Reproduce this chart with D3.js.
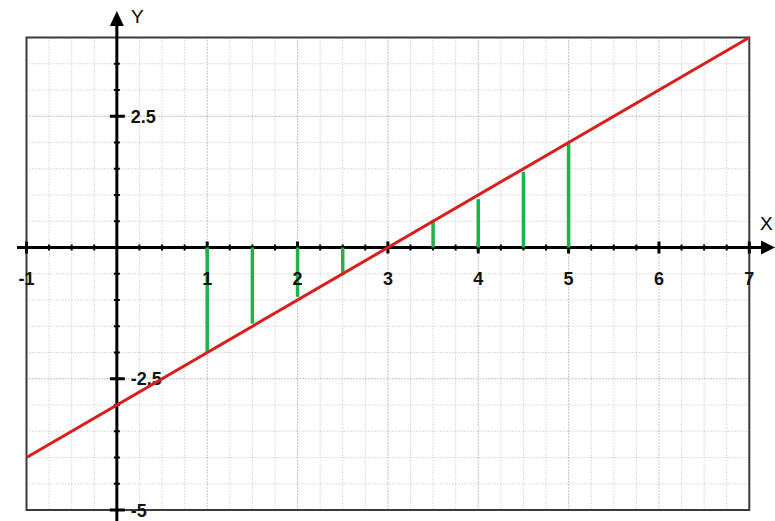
<!DOCTYPE html>
<html>
<head>
<meta charset="utf-8">
<script src="https://cdn.jsdelivr.net/npm/d3@7"></script>
<style>
  body { margin: 0; background: #fff; }
  svg { display: block; }
  text { font-family: "Liberation Sans", Arial, sans-serif; }
</style>
</head>
<body>
<script>
// data
var xLabels = [-1, 1, 2, 3, 4, 5, 6, 7];
var yLabels = [2.5, -2.5, -5];
var lineXs = [-1, 7];
var lineYs = [-4, 4];
var stemXs = [1, 1.5, 2, 2.5, 3.5, 4, 4.5, 5];
var stemYs = [-2, -1.45, -0.94, -0.53, 0.53, 0.92, 1.44, 2.02];

var w = 775, h = 521;
var svg = d3.select("body").append("svg").attr("width", w).attr("height", h);

var x = d3.scaleLinear().domain([-1, 7]).range([26.5, 749.3]);
var y = d3.scaleLinear().domain([-5, 4]).range([510, 37.5]);

// grid - minor then major
var minorX = d3.range(-1, 7.001, 0.25).filter(function(d){ return d % 1 !== 0; });
var majorX = d3.range(-1, 7.001, 1);
var minorY = d3.range(-5, 4.001, 0.5).filter(function(d){ return d % 2.5 !== 0; });
var majorY = [-2.5, 2.5];

var grid = svg.append("g");
grid.selectAll(".mx").data(minorX).enter().append("line")
  .attr("x1", x).attr("x2", x).attr("y1", y(4)).attr("y2", y(-5))
  .attr("stroke", "#bdbdbd").attr("stroke-width", 1).attr("stroke-dasharray", "1,2");
grid.selectAll(".my").data(minorY).enter().append("line")
  .attr("y1", y).attr("y2", y).attr("x1", x(-1)).attr("x2", x(7))
  .attr("stroke", "#bdbdbd").attr("stroke-width", 1).attr("stroke-dasharray", "1,2");
grid.selectAll(".Mx").data(majorX).enter().append("line")
  .attr("x1", x).attr("x2", x).attr("y1", y(4)).attr("y2", y(-5))
  .attr("stroke", "#888").attr("stroke-width", 1).attr("stroke-dasharray", "1,2");
grid.selectAll(".My").data(majorY).enter().append("line")
  .attr("y1", y).attr("y2", y).attr("x1", x(-1)).attr("x2", x(7))
  .attr("stroke", "#888").attr("stroke-width", 1).attr("stroke-dasharray", "1,2");

// frame
svg.append("rect")
  .attr("x", x(-1)).attr("y", y(4))
  .attr("width", x(7) - x(-1)).attr("height", y(-5) - y(4))
  .attr("fill", "none").attr("stroke", "#3a3a3a").attr("stroke-width", 2);

// axes
var x0 = x(0), y0 = y(0);
svg.append("line").attr("x1", 17).attr("x2", 764).attr("y1", y0).attr("y2", y0)
  .attr("stroke", "#000").attr("stroke-width", 3);
svg.append("path")
  .attr("d", "M775," + y0 + "L761," + (y0 - 7) + "L761," + (y0 + 7) + "Z")
  .attr("fill", "#000");
svg.append("line").attr("x1", x0).attr("x2", x0).attr("y1", 24).attr("y2", h)
  .attr("stroke", "#000").attr("stroke-width", 3);
svg.append("path")
  .attr("d", "M" + x0 + ",11L" + (x0 - 7) + ",26L" + (x0 + 7) + ",26Z")
  .attr("fill", "#000");

// ticks on x axis
svg.selectAll(".xt").data(minorX).enter().append("line")
  .attr("x1", x).attr("x2", x).attr("y1", y0 - 3).attr("y2", y0 + 3)
  .attr("stroke", "#000").attr("stroke-width", 2);
svg.selectAll(".xT").data(majorX.filter(function(d){ return d !== 0; })).enter().append("line")
  .attr("x1", x).attr("x2", x).attr("y1", y0 - 6).attr("y2", y0 + 6)
  .attr("stroke", "#000").attr("stroke-width", 3);

// ticks on y axis
svg.selectAll(".yt").data(minorY.filter(function(d){ return d < 4; })).enter().append("line")
  .attr("y1", y).attr("y2", y).attr("x1", x0 - 3).attr("x2", x0 + 3)
  .attr("stroke", "#000").attr("stroke-width", 2);
svg.selectAll(".yT").data(yLabels).enter().append("line")
  .attr("y1", y).attr("y2", y).attr("x1", x0 - 7).attr("x2", x0 + 8)
  .attr("stroke", "#000").attr("stroke-width", 3);

// green stems
svg.selectAll(".stem").data(stemXs).enter().append("line")
  .attr("x1", x).attr("x2", x)
  .attr("y1", y0)
  .attr("y2", function(d, i){ return y(stemYs[i]); })
  .attr("stroke", "#1fb24a").attr("stroke-width", 3.5);

// tick labels (on top of stems)
svg.selectAll(".xl").data(xLabels).enter().append("text")
  .attr("x", x).attr("y", y0 + 37)
  .attr("text-anchor", "middle")
  .attr("font-size", 18).attr("font-weight", "bold").attr("fill", "#111")
  .text(function(d){ return d; });
svg.selectAll(".yl").data(yLabels).enter().append("text")
  .attr("x", x0 + 14).attr("y", function(d){ return y(d) + 6.5; })
  .attr("font-size", 18).attr("font-weight", "bold").attr("fill", "#111")
  .text(function(d){ return d; });

// axis names
svg.append("text").attr("x", 131).attr("y", 23).attr("font-size", 19).text("Y");
svg.append("text").attr("x", 760).attr("y", 230).attr("font-size", 19).text("X");

// red line
var pts = lineXs.map(function(d, i){ return [d, lineYs[i]]; });
svg.append("path").datum(pts)
  .attr("d", d3.line().x(function(d){ return x(d[0]); }).y(function(d){ return y(d[1]); }))
  .attr("stroke", "#d81e1e").attr("stroke-width", 3).attr("fill", "none");
</script>
</body>
</html>
